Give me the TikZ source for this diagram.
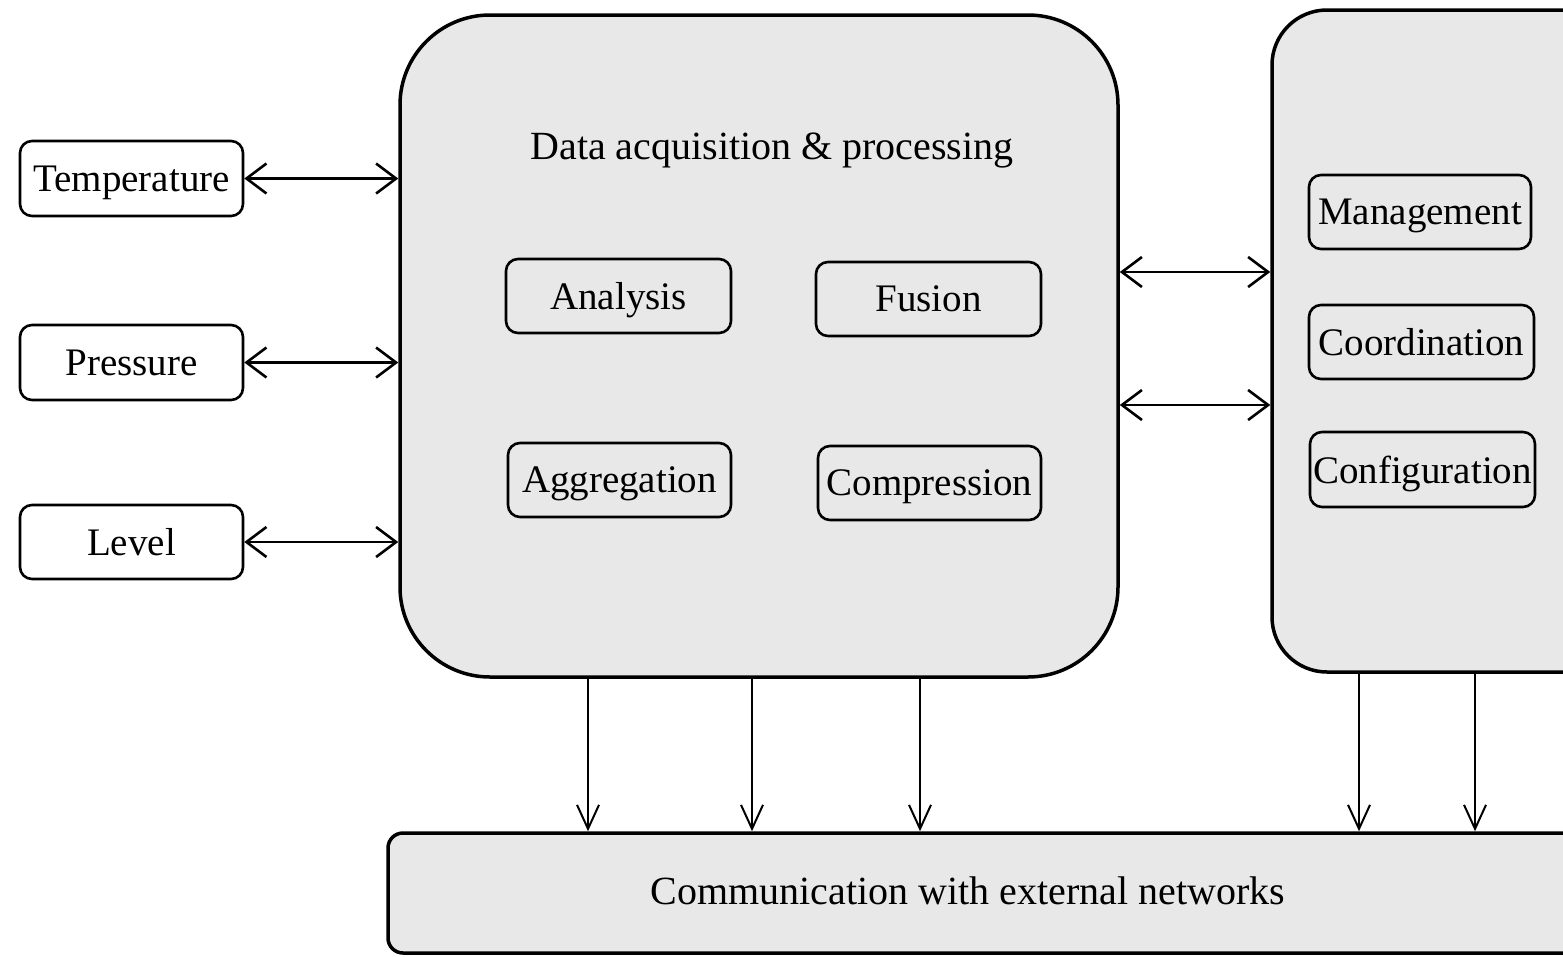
\documentclass[tikz,border=0pt]{standalone}
\usepackage{fontspec}
\setmainfont{Liberation Serif}
\usetikzlibrary{arrows.meta}

\definecolor{boxgray}{HTML}{E8E8E8}
\tikzset{
  panel/.style={draw=black, line width=3.5pt, fill=boxgray, inner sep=0pt},
  sensor/.style={draw=black, line width=2.6pt, fill=white, rounded corners=12pt,
                 minimum width=223pt, minimum height=75pt, inner sep=0pt, text depth=0pt,
                 font=\fontsize{39}{45}\selectfont},
  task/.style={draw=black, line width=2.6pt, fill=boxgray, rounded corners=12pt,
               minimum width=224pt, minimum height=74pt, inner sep=0pt, text depth=0pt,
               font=\fontsize{39}{45}\selectfont},
  label/.style={inner sep=0pt, text depth=0pt, font=\fontsize{40}{46}\selectfont},
  biarrow/.style={line width=2.6pt, {Straight Barb[length=20pt,width=30pt,line width=2.6pt]}-{Straight Barb[length=20pt,width=30pt,line width=2.6pt]}},
  downarrow/.style={line width=2pt, -{Straight Barb[length=24pt,width=22pt,line width=2pt]}}
}

\begin{document}
\begin{tikzpicture}[x=1pt,y=-1pt]
  \useasboundingbox (0,0) rectangle (1563,956);
  \clip (0,0) rectangle (1563,956);
  \fill[white] (0,0) rectangle (1563,956);

  % main panels
  \node[panel, rounded corners=90pt, minimum width=718pt, minimum height=662pt] (acq) at (759,346) {};
  \node[panel, rounded corners=55pt, minimum width=348pt, minimum height=662pt] (ctrl) at (1446,341) {};
  \node[panel, rounded corners=15pt, minimum width=1232pt, minimum height=120pt] (comm) at (1004,893) {};

  \node[label] (acqtitle) at (772,146) {Data acquisition \& processing};
  \node[label] (commtitle) at (968,891) {Communication with external networks};

  % sensors
  \node[sensor] (temp)  at (131.5,178.5) {Temperature};
  \node[sensor] (press) at (131.5,362.5) {Pressure};
  \node[sensor, minimum height=74pt] (level) at (131.5,542) {Level};

  % processing tasks
  \node[task, minimum width=225pt] (analysis) at (618.5,296) {Analysis};
  \node[task, minimum width=225pt] (fusion)   at (928.5,299) {Fusion};
  \node[task, minimum width=223pt] (aggr)     at (619.5,480) {Aggregation};
  \node[task, minimum width=223pt] (compr)    at (929.5,483) {Compression};

  % control tasks
  \node[task, minimum width=222pt] (mgmt)   at (1420,212) {Management};
  \node[task, minimum width=225pt] (coord)  at (1421.5,342) {Coordination};
  \node[task, minimum width=225pt, minimum height=75pt] (config) at (1422.5,469.5) {Configuration};

  % sensor links
  \draw[biarrow] (temp.east)  -- (temp.east -| acq.west);
  \draw[biarrow] (press.east) -- (press.east -| acq.west);
  \draw[biarrow] (level.east) -- (level.east -| acq.west);

  % links between processing and control
  \coordinate (h1) at (0,272);
  \coordinate (h2) at (0,405);
  \draw[biarrow] (acq.east |- h1) -- (ctrl.west |- h1);
  \draw[biarrow] (acq.east |- h2) -- (ctrl.west |- h2);

  % links to the network interface
  \coordinate (d1) at (588,0);
  \coordinate (d2) at (752,0);
  \coordinate (d3) at (920,0);
  \coordinate (d4) at (1359,0);
  \coordinate (d5) at (1475,0);
  \draw[downarrow] (acq.south -| d1)  -- (comm.north -| d1);
  \draw[downarrow] (acq.south -| d2)  -- (comm.north -| d2);
  \draw[downarrow] (acq.south -| d3)  -- (comm.north -| d3);
  \draw[downarrow] (ctrl.south -| d4) -- (comm.north -| d4);
  \draw[downarrow] (ctrl.south -| d5) -- (comm.north -| d5);
\end{tikzpicture}
\end{document}
